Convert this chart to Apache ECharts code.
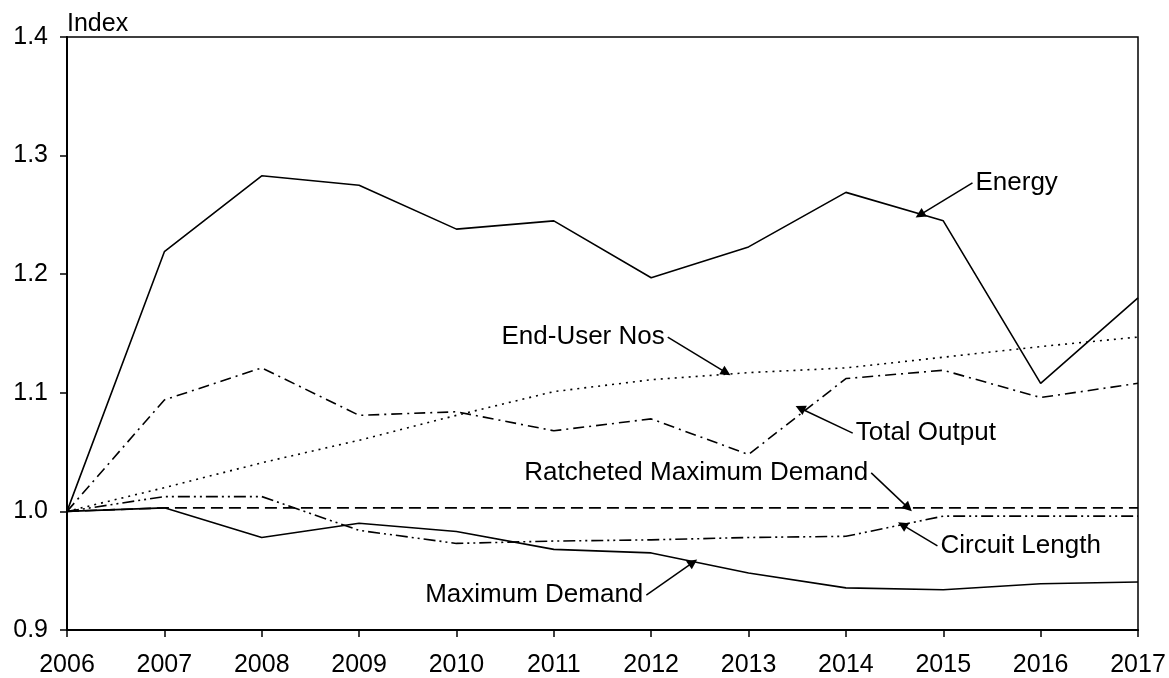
<!DOCTYPE html>
<html>
<head>
<meta charset="utf-8">
<script src="https://cdn.jsdelivr.net/npm/echarts@6/dist/echarts.min.js"></script>
</head>
<body style="margin:0;background:#fff">
<div id="chartmain" style="width:1169px;height:678px"></div>
<script type="text/javascript">
    // years on the x axis
    var years = [2006, 2007, 2008, 2009, 2010, 2011, 2012, 2013, 2014, 2015, 2016, 2017];
    // index values per series
    var energy = [1.000, 1.219, 1.283, 1.275, 1.238, 1.245, 1.197, 1.223, 1.269, 1.245, 1.108, 1.180];
    var totalOutput = [1.000, 1.094, 1.121, 1.081, 1.084, 1.068, 1.078, 1.048, 1.112, 1.119, 1.096, 1.108];
    var endUserNos = [1.000, 1.020, 1.041, 1.060, 1.081, 1.101, 1.111, 1.117, 1.121, 1.130, 1.139, 1.147];
    var ratchetedMaxDemand = [1.000, 1.003, 1.003, 1.003, 1.003, 1.003, 1.003, 1.003, 1.003, 1.003, 1.003, 1.003];
    var circuitLength = [1.000, 1.0125, 1.0125, 0.984, 0.973, 0.975, 0.976, 0.978, 0.979, 0.996, 0.996, 0.996];
    var maxDemand = [1.000, 1.003, 0.978, 0.990, 0.983, 0.968, 0.965, 0.948, 0.9355, 0.934, 0.939, 0.9405];
    // y axis ticks
    var yTicks = [0.9, 1.0, 1.1, 1.2, 1.3, 1.4];

    // annotation: [label, arrow start x, y, arrow tip x, y, label side]
    var notes = {
        energy: ['Energy', 2015.30, 1.277, 2014.76, 1.250, 'right'],
        endUser: ['End-User Nos', 2012.17, 1.147, 2012.77, 1.117, 'left'],
        total: ['Total Output', 2014.07, 1.066, 2013.53, 1.087, 'right'],
        ratcheted: ['Ratcheted Maximum Demand', 2014.26, 1.0325, 2014.64, 1.003, 'left'],
        circuit: ['Circuit Length', 2014.94, 0.971, 2014.58, 0.9886, 'right'],
        maxDem: ['Maximum Demand', 2011.95, 0.9295, 2012.43, 0.957, 'left']
    };

    var FONT = 'Liberation Sans, Arial, sans-serif';
    var FS = 25;      // axis text
    var FS_NOTE = 26; // annotation text

    function pairs(vals) {
        var out = [];
        for (var i = 0; i < years.length; i++) out.push([years[i], vals[i]]);
        return out;
    }

    function makeSeries(name, vals, dash, note) {
        return {
            name: name,
            type: 'line',
            data: pairs(vals),
            showSymbol: false,
            symbol: 'none',
            animation: false,
            lineStyle: { color: '#000', width: 1.6, type: dash },
            markLine: {
                silent: true,
                animation: false,
                symbol: ['none', 'triangle'],
                symbolSize: 10,
                itemStyle: { color: '#000' },
                lineStyle: { color: '#000', width: 1.5, type: 'solid' },
                label: { show: false },
                data: [[{ coord: [note[1], note[2]] }, { coord: [note[3], note[4]] }]]
            },
            markPoint: {
                silent: true,
                animation: false,
                symbol: 'circle',
                symbolSize: 0,
                label: {
                    show: true,
                    position: note[5],
                    distance: 3,
                    color: '#000',
                    fontSize: FS_NOTE,
                    fontFamily: FONT,
                    formatter: note[0]
                },
                data: [{ coord: [note[1], note[2]] }]
            }
        };
    }

    var option = {
        backgroundColor: '#fff',
        grid: {
            left: 67, right: 31, top: 37, bottom: 48,
            show: true, borderColor: '#000', borderWidth: 1.5
        },
        xAxis: {
            type: 'value',
            min: 2006, max: 2017, interval: 1,
            splitLine: { show: false },
            axisLine: { lineStyle: { color: '#000', width: 2 } },
            axisTick: { show: true, inside: false, length: 7, lineStyle: { color: '#000', width: 1.5 } },
            axisLabel: {
                color: '#000', fontSize: FS, fontFamily: FONT, margin: 23,
                formatter: function (v) { return String(v); }
            }
        },
        yAxis: {
            type: 'value',
            min: yTicks[0], max: yTicks[yTicks.length - 1], interval: 0.1,
            name: 'Index',
            nameLocation: 'end',
            nameGap: 0,
            nameTextStyle: { color: '#000', fontSize: FS, fontFamily: FONT, align: 'left', padding: [0, 0, 0, 0] },
            splitLine: { show: false },
            axisLine: { show: true, lineStyle: { color: '#000', width: 2 } },
            axisTick: { show: true, inside: false, length: 7, lineStyle: { color: '#000', width: 1.5 } },
            axisLabel: {
                color: '#000', fontSize: FS, fontFamily: FONT, margin: 19,
                formatter: function (v) { return v.toFixed(1); }
            }
        },
        series: [
            makeSeries('Energy', energy, 'solid', notes.energy),
            makeSeries('End-User Nos', endUserNos, [2, 5], notes.endUser),
            makeSeries('Total Output', totalOutput, [11, 5, 2, 5], notes.total),
            makeSeries('Ratcheted Maximum Demand', ratchetedMaxDemand, [12, 6], notes.ratcheted),
            makeSeries('Circuit Length', circuitLength, [12, 4, 2, 4, 2, 4], notes.circuit),
            makeSeries('Maximum Demand', maxDemand, 'solid', notes.maxDem)
        ]
    };

    var myChart = echarts.init(document.getElementById('chartmain'));
    myChart.setOption(option);
</script>
</body>
</html>
